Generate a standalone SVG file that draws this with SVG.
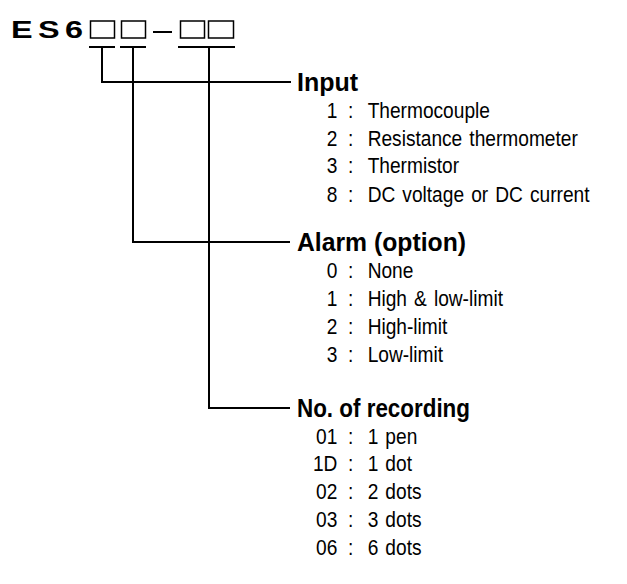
<svg xmlns="http://www.w3.org/2000/svg" width="627" height="584" viewBox="0 0 627 584">
<style>
.ln{stroke:#000;stroke-width:2;fill:none}
.box{stroke:#000;stroke-width:1.5;fill:none}
.h{font-family:"Liberation Sans",Arial,sans-serif;font-weight:bold;font-size:25px;fill:#000}
.t{font-family:"Liberation Sans",Arial,sans-serif;font-size:21.5px;fill:#000;word-spacing:2px}
.n{text-anchor:end}
.c{text-anchor:middle}
</style>
<rect width="627" height="584" fill="#fff"/>
<g id="code">
<text class="h" transform="translate(11,38) scale(1.35,1)" style="font-size:24px;letter-spacing:4px">ES6</text>
<rect class="box" x="90.5" y="21" width="24" height="17"/>
<rect class="box" x="121.5" y="21" width="24" height="17"/>
<line class="ln" x1="153" y1="32" x2="172" y2="32"/>
<rect class="box" x="180.5" y="21" width="24" height="17"/>
<rect class="box" x="208.5" y="21" width="25" height="17"/>
</g>
<g id="connectors">
<line class="ln" x1="89" y1="47" x2="115" y2="47"/>
<line class="ln" x1="120" y1="47" x2="146" y2="47"/>
<line class="ln" x1="178" y1="47" x2="235" y2="47"/>
<polyline class="ln" points="102,47 102,82 291,82"/>
<polyline class="ln" points="133,47 133,242 290,242"/>
<polyline class="ln" points="209,47 209,408 290,408"/>
</g>
<g id="input">
<text class="h" x="297" y="91">Input</text>
<g transform="translate(300,0) scale(0.89,1)">
<text class="t n" x="42" y="118">1</text><text class="t c" x="57" y="118">:</text><text class="t" x="76" y="118">Thermocouple</text>
<text class="t n" x="42" y="146">2</text><text class="t c" x="57" y="146">:</text><text class="t" x="76" y="146">Resistance thermometer</text>
<text class="t n" x="42" y="173">3</text><text class="t c" x="57" y="173">:</text><text class="t" x="76" y="173">Thermistor</text>
<text class="t n" x="42" y="202">8</text><text class="t c" x="57" y="202">:</text><text class="t" x="76" y="202">DC voltage or DC current</text>
</g>
</g>
<g id="alarm">
<text class="h" x="297" y="251" textLength="169" lengthAdjust="spacingAndGlyphs">Alarm (option)</text>
<g transform="translate(300,0) scale(0.89,1)">
<text class="t n" x="42" y="278">0</text><text class="t c" x="57" y="278">:</text><text class="t" x="76" y="278">None</text>
<text class="t n" x="42" y="306">1</text><text class="t c" x="57" y="306">:</text><text class="t" x="76" y="306">High &amp; low-limit</text>
<text class="t n" x="42" y="334">2</text><text class="t c" x="57" y="334">:</text><text class="t" x="76" y="334">High-limit</text>
<text class="t n" x="42" y="362">3</text><text class="t c" x="57" y="362">:</text><text class="t" x="76" y="362">Low-limit</text>
</g>
</g>
<g id="recording">
<text class="h" x="297" y="417" textLength="173" lengthAdjust="spacingAndGlyphs">No. of recording</text>
<g transform="translate(300,0) scale(0.89,1)">
<text class="t n" x="42" y="444">01</text><text class="t c" x="57" y="444">:</text><text class="t" x="76" y="444">1 pen</text>
<text class="t n" x="42" y="471">1D</text><text class="t c" x="57" y="471">:</text><text class="t" x="76" y="471">1 dot</text>
<text class="t n" x="42" y="499">02</text><text class="t c" x="57" y="499">:</text><text class="t" x="76" y="499">2 dots</text>
<text class="t n" x="42" y="527">03</text><text class="t c" x="57" y="527">:</text><text class="t" x="76" y="527">3 dots</text>
<text class="t n" x="42" y="555">06</text><text class="t c" x="57" y="555">:</text><text class="t" x="76" y="555">6 dots</text>
</g>
</g>
</svg>
